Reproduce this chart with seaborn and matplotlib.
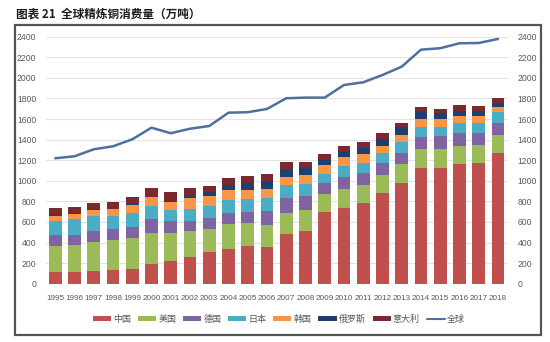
import matplotlib
matplotlib.use("Agg")
import matplotlib.pyplot as plt
import seaborn as sns
import numpy as np
import pandas as pd
from matplotlib.patches import Patch, Rectangle
from matplotlib.lines import Line2D

years = [str(y) for y in range(1995, 2019)]
china   = [111, 114, 123, 136, 146, 189, 224, 262, 305, 334, 363, 357, 480, 512, 700, 733, 781, 881, 981, 1127, 1127, 1160, 1176, 1273]
usa     = [255, 265, 285, 289, 298, 304, 266, 250, 229, 243, 230, 210, 210, 201, 169, 184, 178, 178, 179, 179, 182, 181, 172, 169]
germany = [104, 97, 101, 109, 110, 133, 116, 100, 101, 107, 107, 142, 146, 136, 110, 120, 120, 111, 110, 117, 123, 124, 117, 117]
japan   = [142, 150, 149, 127, 136, 132, 110, 114, 123, 129, 120, 127, 126, 123, 87, 107, 94, 97, 107, 100, 94, 100, 100, 106]
korea   = [49, 54, 58, 62, 78, 82, 81, 104, 94, 97, 90, 81, 78, 81, 91, 90, 90, 74, 68, 77, 74, 68, 65, 49]
russia  = [5, 5, 5, 5, 5, 5, 10, 32, 42, 52, 66, 78, 75, 68, 42, 43, 53, 62, 75, 71, 56, 48, 51, 39]
italy   = [67, 60, 63, 66, 70, 82, 81, 65, 58, 68, 68, 68, 71, 65, 59, 64, 58, 59, 39, 49, 39, 53, 46, 54]
world   = [1219, 1238, 1306, 1335, 1403, 1516, 1462, 1506, 1532, 1662, 1666, 1698, 1802, 1808, 1808, 1931, 1957, 2028, 2109, 2274, 2288, 2336, 2339, 2378]

series_names = ["中国", "美国", "德国", "日本", "韩国", "俄罗斯", "意大利"]
series_vals = [china, usa, germany, japan, korea, russia, italy]
colors = ["#C0504D", "#9BBB59", "#8064A2", "#4BACC6", "#F79646", "#1F3F6E", "#7A2A2E"]
line_color = "#4E6F9F"
line_name = "全球"

sns.set_theme(style="white")
num_font = "Liberation Sans"
plt.rcParams['font.family'] = ['Noto Sans CJK SC', 'DejaVu Sans']

fig = plt.figure(figsize=(5.5, 3.42), dpi=100)
ax = fig.add_axes([46/550, 1-283.7/342, (508-46)/550, (283.7-36.7)/342])

df = pd.DataFrame({"year": years})
cum = np.zeros(len(years))
for name, vals in zip(series_names, series_vals):
    cum = cum + np.array(vals)
    df[name] = cum.copy()

# draw tallest cumulative first so lower segments overlay
for name, col in reversed(list(zip(series_names, colors))):
    sns.barplot(data=df, x="year", y=name, color=col, width=0.66, ax=ax,
                saturation=1, edgecolor="none", linewidth=0, order=years)

line_df = pd.DataFrame({"pos": np.arange(len(years)), "world": world})
sns.lineplot(data=line_df, x="pos", y="world", ax=ax, color=line_color, linewidth=1.8)

ax.set_xlim(-0.48, 23.52)
ax.set_ylim(0, 2400)
ax.set_yticks(np.arange(0, 2401, 200))
ax.set_xticks(np.arange(len(years)))
ax.set_xticklabels(years)
ax.set_xlabel("")
ax.set_ylabel("")
ax.yaxis.grid(True, color="#E3E3E3", linewidth=0.8)
ax.set_axisbelow(True)
for s in ax.spines.values():
    s.set_visible(False)
ax.tick_params(axis="both", length=0, labelcolor="#595959")
ax.tick_params(axis="x", pad=8, labelsize=5.9)
ax.tick_params(axis="y", pad=7, labelsize=6.2, labelright=True, labelleft=True)
for lab in ax.get_xticklabels():
    lab.set_family(num_font)
for tick in ax.yaxis.get_major_ticks():
    tick.label1.set_family(num_font)
    tick.label2.set_family(num_font)

handles = [Patch(facecolor=c, edgecolor="none", label=n) for n, c in zip(series_names, colors)]
handles.append(Line2D([0], [0], color=line_color, lw=1.5, label=line_name))
leg = fig.legend(handles=handles, loc="center", bbox_to_anchor=(279/550, 1-319/342),
                 ncol=8, frameon=False, fontsize=6.5, handlelength=2.0, handleheight=0.45,
                 columnspacing=0.75, handletextpad=0.25)
for t in leg.get_texts():
    t.set_color("#595959")

fig.patches.append(Rectangle((15/550, 1-335/342), (541-15)/550, (335-25)/342,
                             transform=fig.transFigure, fill=False,
                             edgecolor="#555555", linewidth=1.6))
fig.text(16/550, 1-14/342, "图表 21  全球精炼铜消费量（万吨）", fontsize=8.4,
         fontweight="bold", va="center", ha="left", color="#1a1a1a")

fig.savefig("out.png", dpi=100)
